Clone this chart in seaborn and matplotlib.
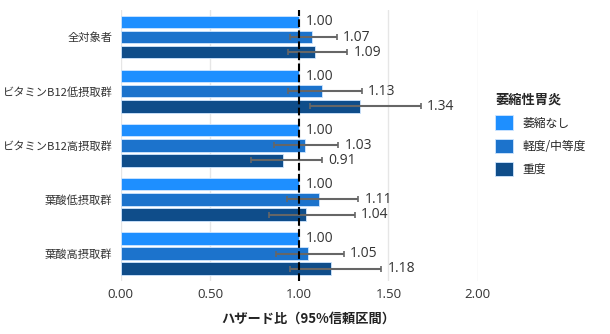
import matplotlib
matplotlib.use("Agg")
import matplotlib.pyplot as plt
import seaborn as sns
import pandas as pd
import numpy as np

categories = ["全対象者", "ビタミンB12低摂取群", "ビタミンB12高摂取群", "葉酸低摂取群", "葉酸高摂取群"]
series = ["萎縮なし", "軽度/中等度", "重度"]
hr_none = [1.00, 1.00, 1.00, 1.00, 1.00]
hr_mild = [1.07, 1.13, 1.03, 1.11, 1.05]
hr_severe = [1.09, 1.34, 0.91, 1.04, 1.18]
lo_mild = [0.95, 0.94, 0.86, 0.93, 0.87]
hi_mild = [1.21, 1.35, 1.22, 1.33, 1.25]
lo_severe = [0.94, 1.06, 0.73, 0.83, 0.95]
hi_severe = [1.27, 1.68, 1.13, 1.31, 1.46]
colors = ["#1E8FFF", "#1C73CC", "#0F4D8A"]

sns.set_theme(style="whitegrid")
plt.rcParams['font.family'] = ['Noto Sans CJK JP', 'DejaVu Sans']
NUM_FONT = ['Open Sans', 'DejaVu Sans']

rows = []
vals = [hr_none, hr_mild, hr_severe]
for s, v in zip(series, vals):
    for c, x in zip(categories, v):
        rows.append({"cat": c, "series": s, "hr": x})
df = pd.DataFrame(rows)

fig = plt.figure(figsize=(6.1, 3.34), dpi=100)
ax = fig.add_axes([0.198, 0.16, 0.585, 0.81])
sns.barplot(data=df, y="cat", x="hr", hue="series", order=categories, hue_order=series,
            palette=colors, orient="h", ax=ax, width=0.84, gap=0.18, errorbar=None,
            edgecolor="#cfe6ff", linewidth=0.6, saturation=1)

los = [None, lo_mild, lo_severe]
his = [None, hi_mild, hi_severe]
bar_containers = list(ax.containers)[:3]
for si, cont in enumerate(bar_containers):
    for ci, bar in enumerate(cont.patches):
        y = bar.get_y() + bar.get_height() / 2
        v = vals[si][ci]
        right = v
        if los[si] is not None:
            lo, hi = los[si][ci], his[si][ci]
            ax.errorbar(v, y, xerr=[[v - lo], [hi - v]], fmt="none", ecolor="#666666",
                        elinewidth=1.5, capsize=2.0, capthick=1.2, zorder=4)
            right = max(v, hi)
        ax.text(right + 0.035, y, f"{v:.2f}", va="center", ha="left", fontsize=10,
                color="#333333", family=NUM_FONT)

ax.axvline(1.0, color="black", linestyle="--", linewidth=1.5, zorder=5)
ax.set_xlim(0, 2.0)
ticks = [0, 0.5, 1.0, 1.5, 2.0]
ax.set_xticks(ticks)
ax.set_xticklabels([f"{t:.2f}" for t in ticks], fontsize=9.5, color="#333333", family=NUM_FONT)
ax.tick_params(axis="y", labelsize=8.1, labelcolor="#333333", length=0, pad=6)
ax.tick_params(axis="x", length=0, pad=5)
ax.set_ylabel("")
ax.set_xlabel("ハザード比（95%信頼区間）", fontsize=9.5, color="#222222",
              fontweight="bold")
ax.xaxis.set_label_coords(0.527, -0.115)
ax.grid(axis="y", visible=False)
ax.grid(axis="x", color="#e6e6e6", linewidth=1)
for sp in ax.spines.values():
    sp.set_visible(False)
ax.set_ylim(4.5, -0.5)

leg = ax.legend(title="萎縮性胃炎", loc="center left", bbox_to_anchor=(1.02, 0.54),
                frameon=False, fontsize=8.5, title_fontsize=9.5, handlelength=1.5,
                handleheight=1.5, labelspacing=0.75, handletextpad=0.8)
leg.get_title().set_fontweight("bold")
leg._legend_box.align = "left"

fig.savefig("out.png", dpi=100)
